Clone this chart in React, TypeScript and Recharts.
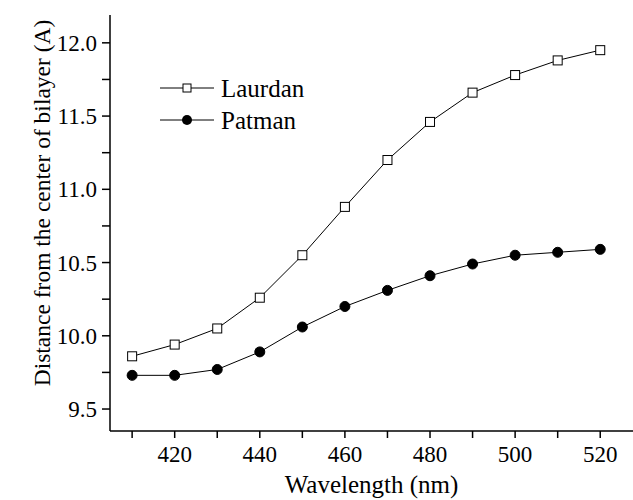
import React from 'react';
import { LineChart, Line, XAxis, YAxis, Legend } from 'recharts';

const wavelengths = [410, 420, 430, 440, 450, 460, 470, 480, 490, 500, 510, 520];
const laurdan = [9.86, 9.94, 10.05, 10.26, 10.55, 10.88, 11.2, 11.46, 11.66, 11.78, 11.88, 11.95];
const patman = [9.73, 9.73, 9.77, 9.89, 10.06, 10.2, 10.31, 10.41, 10.49, 10.55, 10.57, 10.59];
const yTicks = [9.5, 9.75, 10.0, 10.25, 10.5, 10.75, 11.0, 11.25, 11.5, 11.75, 12.0];

const data = wavelengths.map((w, i) => ({ wavelength: w, Laurdan: laurdan[i], Patman: patman[i] }));

const FONT = "'Liberation Serif', 'Times New Roman', serif";

function SquareDot(props: any) {
  const { cx, cy, index } = props;
  if (cx == null || cy == null) return null;
  return <rect key={`sq-${index}`} x={cx - 4.5} y={cy - 4.5} width={9} height={9} fill="white" stroke="black" strokeWidth={1} />;
}

function LegendContent({ payload }: any) {
  return (
    <div style={{ fontFamily: FONT, fontSize: 25, color: 'black', lineHeight: 1 }}>
      {(payload || []).map((p: any) => (
        <div key={p.value} style={{ display: 'flex', alignItems: 'center', height: 32 }}>
          <svg width={56} height={14} style={{ marginRight: 5 }}>
            <line x1={0} y1={7} x2={54} y2={7} stroke="black" strokeWidth={1} />
            {p.value === 'Laurdan' ? (
              <rect x={23} y={3} width={8} height={8} fill="white" stroke="black" />
            ) : (
              <circle cx={27} cy={7} r={5} fill="black" />
            )}
          </svg>
          <span>{p.value}</span>
        </div>
      ))}
    </div>
  );
}

function YLabel() {
  return (
    <text x={50} y={203} transform="rotate(-90, 50, 203)" textAnchor="middle" fontFamily={FONT} fontSize={23.5} fill="black">
      Distance from the center of bilayer (A)
    </text>
  );
}

export default function App() {
  const tickStyle = { fontFamily: FONT, fontSize: 23, fill: 'black' };
  return (
    <div style={{ position: 'absolute', left: 0, top: 0, background: 'white', fontFamily: FONT }}>
      <LineChart width={633} height={500} data={data} margin={{ top: 15, right: 0, bottom: 0, left: 0 }}>
        <XAxis
          dataKey="wavelength"
          type="number"
          domain={[404.8, 527.7]}
          allowDataOverflow
          ticks={wavelengths}
          tickFormatter={(v: number) => (v % 20 === 0 ? String(v) : '')}
          tick={tickStyle}
          tickSize={7}
          tickMargin={8}
          height={69}
          axisLine={{ stroke: 'black', strokeWidth: 1.5 }}
          tickLine={{ stroke: 'black', strokeWidth: 1.5 }}
          label={{ value: 'Wavelength (nm)', position: 'insideBottom', offset: 7, style: { fontFamily: FONT, fontSize: 25, fill: 'black' } }}
        />
        <XAxis
          xAxisId="top"
          orientation="top"
          dataKey="wavelength"
          type="number"
          domain={[404.8, 527.7]}
          allowDataOverflow
          height={0}
          tick={false}
          tickLine={false}
          axisLine={{ stroke: 'black', strokeWidth: 1.5 }}
        />
        <YAxis
          type="number"
          domain={[9.35, 12.19]}
          allowDataOverflow
          ticks={yTicks}
          interval={0}
          tickFormatter={(v: number) => (Math.abs(v * 2 - Math.round(v * 2)) < 1e-6 ? v.toFixed(1) : '')}
          tick={tickStyle}
          tickSize={8}
          tickMargin={5}
          width={110}
          axisLine={{ stroke: 'black', strokeWidth: 1.5 }}
          tickLine={{ stroke: 'black', strokeWidth: 1.5 }}
          label={{ content: () => <YLabel /> }}
        />
        <Legend
          layout="vertical"
          align="center"
          verticalAlign="middle"
          content={<LegendContent />}
          wrapperStyle={{ position: 'absolute', left: 160, top: 72, width: 'auto' }}
        />
        <Line
          type="linear"
          dataKey="Laurdan"
          stroke="black"
          strokeWidth={1}
          dot={<SquareDot />}
          activeDot={false}
          isAnimationActive={false}
        />
        <Line
          type="linear"
          dataKey="Patman"
          stroke="black"
          strokeWidth={1}
          dot={{ r: 5, fill: 'black', stroke: 'black', strokeWidth: 1 }}
          activeDot={false}
          isAnimationActive={false}
        />
      </LineChart>
    </div>
  );
}
